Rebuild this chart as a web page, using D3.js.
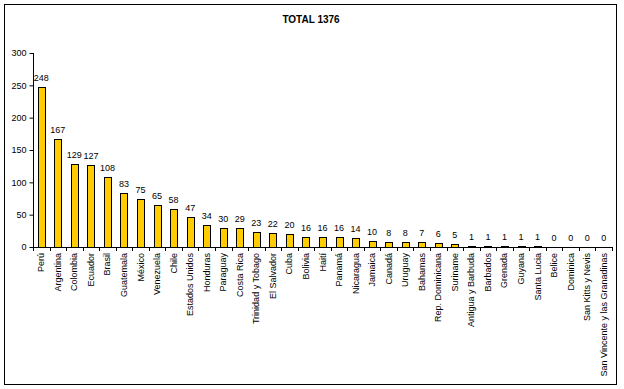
<!DOCTYPE html>
<html>
<head>
<meta charset="utf-8">
<script src="https://cdn.jsdelivr.net/npm/d3@7"></script>
<style>
  body { margin: 0; background: #fff; }
  text { font-family: Arial, "Liberation Sans", sans-serif; }
</style>
</head>
<body>
<svg width="624" height="389"></svg>
<script>
var svg = d3.select("svg");

var countries = ["Perú", "Argentina", "Colombia", "Ecuador", "Brasil", "Guatemala", "México", "Venezuela", "Chile", "Estados  Unidos", "Honduras", "Paraguay", "Costa Rica", "Trinidad  y Tobago", "El  Salvador", "Cuba", "Bolivia", "Haití", "Panamá", "Nicaragua", "Jamaica", "Canadá", "Uruguay", "Bahamas", "Rep.  Dominicana", "Suriname", "Antigua  y  Barbuda", "Barbados", "Grenada", "Guyana", "Santa  Lucia", "Belice", "Dominica", "San Kitts  y Nevis", "San Vincente y las Granadinas"];
var totals = [248, 167, 129, 127, 108, 83, 75, 65, 58, 47, 34, 30, 29, 23, 22, 20, 16, 16, 16, 14, 10, 8, 8, 7, 6, 5, 1, 1, 1, 1, 1, 0, 0, 0, 0];
var yTicks = [0, 50, 100, 150, 200, 250, 300];

// frame
svg.append("rect")
    .attr("x", 4.5).attr("y", 4.5)
    .attr("width", 612).attr("height", 380)
    .attr("fill", "none").attr("stroke", "black");

svg.append("text")
    .attr("x", 311).attr("y", 23)
    .attr("text-anchor", "middle")
    .attr("font-size", "10px").attr("font-weight", "bold")
    .text("TOTAL 1376");

var x = d3.scaleBand().domain(countries).range([33, 612]).padding(0);
var y = d3.scaleLinear().domain([0, 300]).range([247, 53]);

// y axis
var yAxis = svg.append("g").attr("transform", "translate(33.5,0)")
    .call(d3.axisLeft(y).tickValues(yTicks).tickSize(4).tickPadding(3));
yAxis.select(".domain").attr("d", "M0," + y(300) + "V" + y(0));
yAxis.selectAll("text").attr("font-size", "9px").attr("font-family", "Arial, 'Liberation Sans', sans-serif");

// x axis line and ticks at category boundaries
var g = svg.append("g");
g.append("line")
    .attr("x1", 33).attr("x2", 612.5)
    .attr("y1", 247.5).attr("y2", 247.5)
    .attr("stroke", "black");
g.selectAll(".xt")
    .data(countries.concat(["_end"]))
    .enter().append("line")
    .attr("x1", function(d, i) { return Math.round(33 + i * x.bandwidth()) + 0.5; })
    .attr("x2", function(d, i) { return Math.round(33 + i * x.bandwidth()) + 0.5; })
    .attr("y1", 247).attr("y2", 251)
    .attr("stroke", "black");

// bars
svg.selectAll(".bar")
    .data(totals)
    .enter().append("rect")
    .attr("class", "bar")
    .attr("x", function(d, i) { return Math.round(x(countries[i]) + x.bandwidth() / 2 - 3.5) + 0.5; })
    .attr("y", function(d) { return Math.round(y(d)) + 0.5; })
    .attr("width", 7)
    .attr("height", function(d) { return Math.max(0, Math.round(y(0)) - Math.round(y(d))); })
    .attr("fill", "#FFCC00")
    .attr("stroke", "black");

// value labels
svg.selectAll(".val")
    .data(totals)
    .enter().append("text")
    .attr("x", function(d, i) { return x(countries[i]) + x.bandwidth() / 2; })
    .attr("y", function(d) { return y(d) - 6; })
    .attr("text-anchor", "middle")
    .attr("font-size", "9px")
    .text(function(d) { return d; });

// category labels
svg.selectAll(".cat")
    .data(countries)
    .enter().append("text")
    .attr("transform", function(d) {
        return "translate(" + (x(d) + x.bandwidth() / 2 + 3) + ",253) rotate(-90)";
    })
    .attr("text-anchor", "end")
    .attr("font-size", "9px")
    .text(function(d) { return d; });
</script>
</body>
</html>
